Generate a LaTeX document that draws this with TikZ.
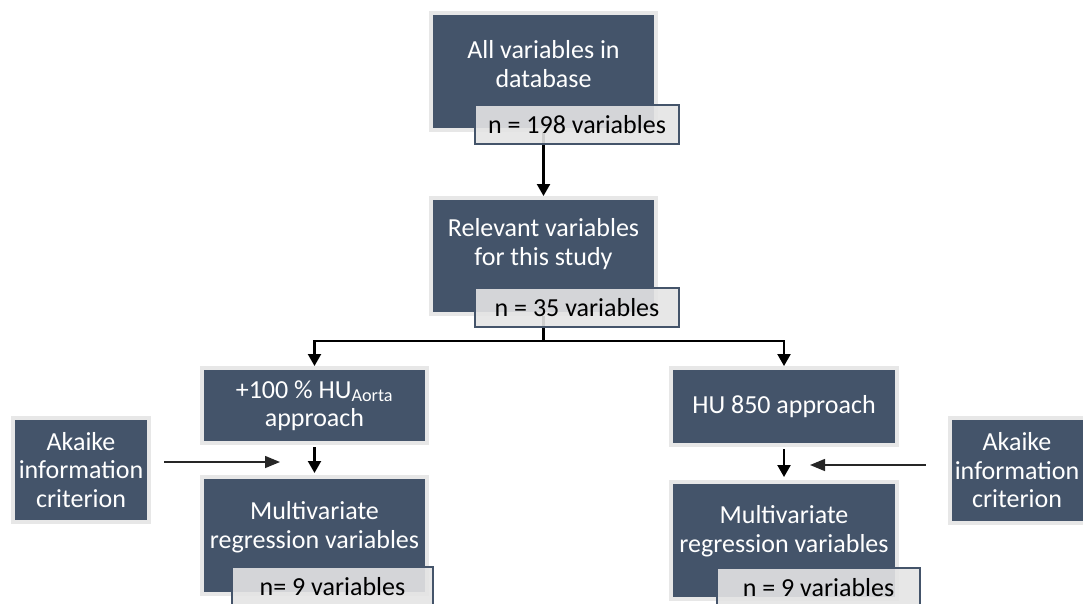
\documentclass[tikz,border=0pt]{standalone}
\usepackage{fontspec}
\setmainfont{Carlito}
\usetikzlibrary{arrows.meta}
\definecolor{slate}{HTML}{44546A}
\definecolor{rim}{HTML}{E7E7E7}
\definecolor{tagfill}{HTML}{E4E4E4}
\begin{document}
\begin{tikzpicture}[x=1pt,y=-1pt,
  box/.style={fill=slate, draw=rim, line width=4pt, inner sep=0pt, text=white, align=center,
              font=\fontsize{26}{28.5}\selectfont},
  boxtext/.style={text=white, align=center, inner sep=0pt, font=\fontsize{26}{28.5}\selectfont},
  tagbox/.style={fill=tagfill, fill opacity=0.9, text opacity=1, draw=slate, draw opacity=1,
              line width=1.3pt, inner sep=0pt, text=black, font=\fontsize{26}{28.5}\selectfont},
  flow/.style={line width=2.2pt, -{Triangle[width=13pt,length=12pt]}},
  side/.style={line width=1.5pt, draw=black!85, -{Triangle[width=12pt,length=15pt]}},
]
\useasboundingbox (0,0) rectangle (1083,603);
\clip (0,0) rectangle (1083,603);

% top boxes
\node[box, minimum width=225pt, minimum height=117pt] (all) at (543.5,71.5) {};
\node[boxtext] (allT) at (543.5,64) {All variables in\\database};
\node[box, minimum width=225pt, minimum height=116pt] (rel) at (543.5,256) {};
\node[boxtext] (relT) at (543.5,244) {Relevant variables\\for this study};

% approach boxes
\node[box, minimum width=225pt, minimum height=75pt] (appL) at (314.5,405.5) {+100 \% HU\textsubscript{Aorta}\\approach};
\node[box, minimum width=226pt, minimum height=77pt] (appR) at (784,406.5) {HU 850 approach};

% multivariate boxes
\node[box, minimum width=225pt, minimum height=117pt] (mulL) at (314.5,535.5) {};
\node[boxtext] (mulLT) at (314.5,527) {Multivariate\\regression variables};
\node[box, minimum width=226pt, minimum height=117pt] (mulR) at (784,540.5) {};
\node[boxtext] (mulRT) at (784,531) {Multivariate\\regression variables};

% Akaike boxes
\node[box, minimum width=136pt, minimum height=104pt] (akL) at (81,470) {Akaike\\information\\criterion};
\node[box, minimum width=135pt, minimum height=105pt] (akR) at (1017,470.5) {Akaike\\information\\criterion};

% connectors
\draw[flow] (all.south) -- (rel.north);
\coordinate (split) at (543.5,341);
\draw[line width=2.2pt] (rel.south -| split) -- (split);
\draw[flow] (split) -| (appL.north);
\draw[flow] (split) -| (appR.north);
\draw[flow, shorten <=2pt, shorten >=2pt] (appL.south) -- (mulL.north);
\draw[flow, shorten <=2pt, shorten >=3pt] (appR.south) -- (mulR.north);

\coordinate (tipL) at (280,462);
\coordinate (tipR) at (810,465);
\draw[side, shorten <=13pt] (akL.east |- tipL) -- (tipL);
\draw[side, shorten <=22pt] (akR.west |- tipR) -- (tipR);

% count tags
\node[tagbox, minimum width=204pt, minimum height=39pt] (tag1) at (577,124.5) {n = 198 variables};
\node[tagbox, minimum width=204pt, minimum height=39pt] (tag2) at (577,307.5) {n = 35 variables};
\node[tagbox, minimum width=201pt, minimum height=39pt] (tag3) at (332.5,586.5) {n= 9 variables};
\node[tagbox, minimum width=203pt, minimum height=39pt] (tag4) at (818.5,587.5) {n = 9 variables};
\end{tikzpicture}
\end{document}
